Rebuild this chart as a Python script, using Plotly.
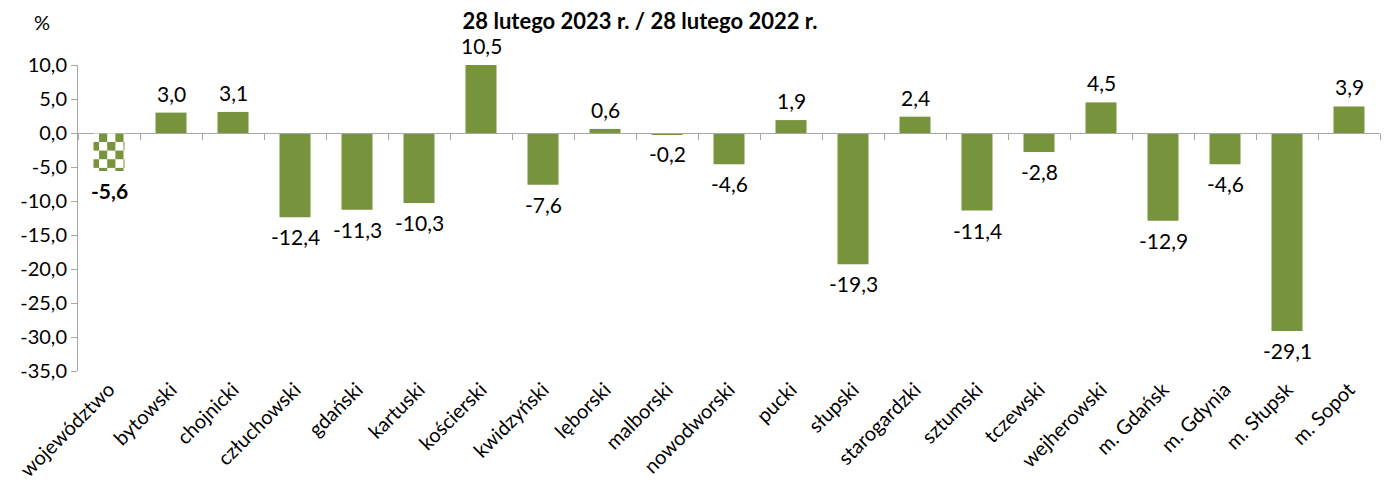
import base64
import plotly.graph_objects as go

# ---------------- data ----------------
categories = ["województwo", "bytowski", "chojnicki", "człuchowski", "gdański", "kartuski",
              "kościerski", "kwidzyński", "lęborski", "malborski", "nowodworski", "pucki",
              "słupski", "starogardzki", "sztumski", "tczewski", "wejherowski", "m. Gdańsk",
              "m. Gdynia", "m. Słupsk", "m. Sopot"]
values = [-5.6, 3.0, 3.1, -12.4, -11.3, -10.3, 10.5, -7.6, 0.6, -0.2, -4.6, 1.9,
          -19.3, 2.4, -11.4, -2.8, 4.5, -12.9, -4.6, -29.1, 3.9]
y_tickvals = [10, 5, 0, -5, -10, -15, -20, -25, -30, -35]
y_ticktext = ["10,0", "5,0", "0,0", "-5,0", "-10,0", "-15,0", "-20,0", "-25,0", "-30,0", "-35,0"]
title_text = "28 lutego 2023 r. / 28 lutego 2022 r."
unit_text = "%"

# ---------------- style ----------------
GREEN = "#77933C"
GRAY = "#A6A6A6"
FONT = "Lato"
Y_MIN, Y_MAX = -35, 10
BAR_WIDTH = 0.5
# the page body has an 8px margin, so the figure is sized/offset to compensate
FIG_W, FIG_H = 1382, 489
M_L, M_R, M_T, M_B = 70, 10, 57, 126
PLOT_W = FIG_W - M_L - M_R
PLOT_H = FIG_H - M_T - M_B

def fmt(v):
    return f"{v:.1f}".replace(".", ",")

# checkerboard pattern (as SVG) for the first (summary) bar
def checker_svg(w=31.7, h=36.7, cell=8.33, offx=-2.63, offy=0.3):
    rects = []
    for r in range(-1, 7):
        for c in range(-1, 6):
            if (r + c) % 2 == 1:
                x = offx + c * cell
                y = offy + r * cell
                rects.append(f'<rect x="{x:.2f}" y="{y:.2f}" width="{cell:.2f}" height="{cell:.2f}" fill="{GREEN}"/>')
    svg = (f'<svg xmlns="http://www.w3.org/2000/svg" viewBox="0 0 {w} {h}" '
           f'width="{w}" height="{h}" preserveAspectRatio="none">'
           f'<rect x="0" y="0" width="{w}" height="{h}" fill="white"/>' + "".join(rects) + "</svg>")
    return "data:image/svg+xml;base64," + base64.b64encode(svg.encode()).decode()

colors = ["rgba(0,0,0,0)"] + [GREEN] * (len(values) - 1)

fig = go.Figure()
fig.add_trace(go.Bar(x=categories, y=values, marker=dict(color=colors, line=dict(width=0)),
                     width=BAR_WIDTH, hoverinfo="x+y", showlegend=False))
# helper invisible trace to host the zero-line axis with category-boundary ticks
fig.add_trace(go.Scatter(x=[0], y=[0], xaxis="x2", yaxis="y", mode="markers",
                         marker=dict(opacity=0), hoverinfo="skip", showlegend=False))

# checkered first bar
fig.add_layout_image(dict(source=checker_svg(), xref="x", yref="y",
                          x=0, y=0, sizex=BAR_WIDTH, sizey=abs(values[0]),
                          xanchor="center", yanchor="top", sizing="stretch", layer="above"))

# value labels
for i, (c, v) in enumerate(zip(categories, values)):
    txt = fmt(v)
    if i == 0:
        txt = f"<b>{txt}</b>"
    yv = max(min(v, Y_MAX), Y_MIN)
    fig.add_annotation(x=c, y=yv, text=txt, showarrow=False,
                       yanchor="bottom" if v >= 0 else "top",
                       yshift=5 if v >= 0 else -5,
                       font=dict(family=FONT, size=21, color="black"))

# unit label "%"
fig.add_annotation(x=(34 - M_L) / PLOT_W, y=(FIG_H - M_B - 14) / PLOT_H,
                   xref="paper", yref="paper", text=unit_text, showarrow=False,
                   xanchor="center", yanchor="middle",
                   font=dict(family=FONT, size=20, color="black"))

fig.update_layout(
    width=FIG_W, height=FIG_H,
    margin=dict(l=M_L, r=M_R, t=M_T, b=M_B, autoexpand=False),
    paper_bgcolor="white", plot_bgcolor="white",
    bargap=0.5,
    font=dict(family=FONT, color="black"),
    title=dict(text=f"<b>{title_text}</b>", x=632 / FIG_W, xanchor="center",
               y=1 - 13 / FIG_H, yanchor="middle",
               font=dict(family=FONT, size=22, color="black")),
    xaxis=dict(type="category", range=[-0.5, len(categories) - 0.5], showline=False,
               ticks="", tickangle=-45, showgrid=False, zeroline=False, automargin=False,
               tickfont=dict(family=FONT, size=20, color="black"), ticklabelstandoff=2),
    xaxis2=dict(overlaying="x", anchor="free", position=(0 - Y_MIN) / (Y_MAX - Y_MIN),
                type="linear", range=[-0.5, len(categories) - 0.5],
                tickmode="array", tickvals=[i - 0.5 for i in range(len(categories) + 1)],
                ticks="outside", ticklen=6, tickcolor=GRAY, tickwidth=1,
                showticklabels=False, showline=True, linecolor=GRAY, linewidth=1,
                showgrid=False, zeroline=False, side="bottom"),
    yaxis=dict(range=[Y_MIN, Y_MAX], tickmode="array", tickvals=y_tickvals, ticktext=y_ticktext,
               ticks="outside", ticklen=6, tickcolor=GRAY, showline=True, linecolor=GRAY,
               linewidth=1, showgrid=False, zeroline=False, automargin=False,
               tickfont=dict(family=FONT, size=20, color="black")),
)

fig.write_html("out.html")
